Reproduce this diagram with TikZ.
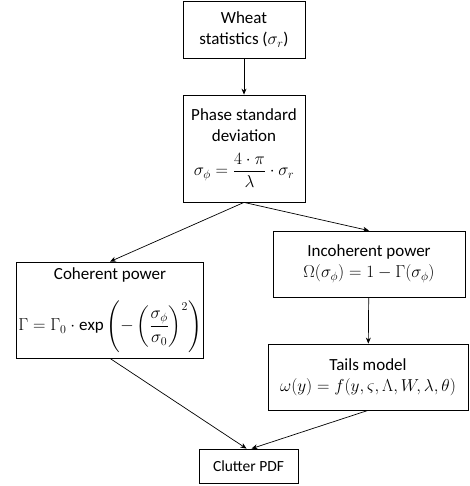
\documentclass[tikz,border=0pt]{standalone}
\usepackage{fontspec}
\usepackage{amsmath}
\setmainfont{Carlito}
\usepackage{tikz}
\usetikzlibrary{arrows.meta,positioning,calc}
\tikzset{
    stepbox/.style={draw=black, line width=0.8pt, align=center,
        inner sep=2pt, font=\fontsize{17}{21}\selectfont},
    flowarrow/.style={draw=black, line width=0.7pt,
        -{Stealth[length=6pt,width=5pt]}},
}

\begin{document}
\begin{tikzpicture}[x=1pt, y=-1pt]

    % ── Canvas ─────────────────────────────────────────────────────────────
    \useasboundingbox (0,0) rectangle (469,486);

    % ── Boxes ──────────────────────────────────────────────────────────────
    \node[stepbox, minimum width=122pt, minimum height=57pt] (wheat)
        at (244,29.5) {Wheat\\statistics ($\sigma_r$)};

    \node[stepbox, minimum width=122pt, minimum height=107pt] (phase)
        at (244,148.5)
        {Phase standard\\deviation\\[10pt]
         $\displaystyle\sigma_\phi=\frac{4\cdot\pi}{\lambda}\cdot\sigma_r$};

    \node[stepbox, minimum width=184pt, minimum height=96pt] (coherent)
        at (110,310)
        {Coherent power\\[17pt]
         $\displaystyle\Gamma=\Gamma_0\cdot\exp\left(-\left(\frac{\sigma_\phi}{\sigma_0}\right)^2\right)$};

    \node[stepbox, minimum width=192pt, minimum height=66pt] (incoherent)
        at (369,264)
        {Incoherent power\\$\Omega(\sigma_\phi)=1-\Gamma(\sigma_\phi)$};

    \node[stepbox, minimum width=200pt, minimum height=66pt] (tails)
        at (368,377)
        {Tails model\\$\omega(y)=f(y,\varsigma,\Lambda,W,\lambda,\theta)$};

    \node[stepbox, minimum width=99pt, minimum height=34pt,
          font=\fontsize{15.5}{18}\selectfont] (clutter)
        at (248.5,466) {Clutter PDF};

    % ── Connectors ─────────────────────────────────────────────────────────
    \draw[flowarrow] (wheat) -- (phase);
    \draw[flowarrow] (phase.south) -- (coherent.north);
    \draw[flowarrow] (phase.south) -- (incoherent.north);
    \draw[flowarrow] (incoherent) -- (tails);
    \draw[flowarrow] (coherent.south) -- ($(clutter.north)+(-2,0)$);
    \draw[flowarrow] (tails.south) -- ($(clutter.north)+(3,0)$);

\end{tikzpicture}
\end{document}
